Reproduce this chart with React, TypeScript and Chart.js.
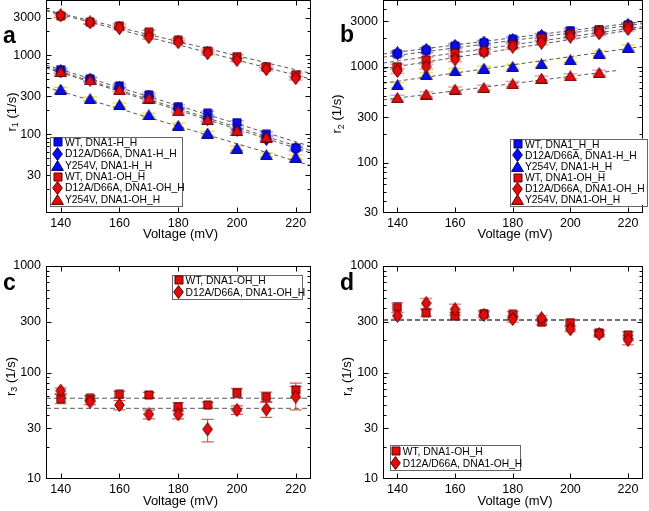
import React, { useEffect, useRef } from "react";
import { Chart, registerables } from "chart.js";
Chart.register(...registerables);

const FONT = '"Liberation Sans", Arial, Helvetica, sans-serif';

// ---------------- data ----------------
const voltage = [140, 150, 160, 170, 180, 190, 200, 210, 220];
const voltageShort = [140, 150, 160, 170, 180, 190, 200, 210];
const fitX = [135, 225];
const fitXShort = [135, 216];
const xTickValues = [140, 160, 180, 200, 220];
const yTicksTop = [30, 100, 300, 1000, 3000];
const yTicksBottom = [10, 30, 100, 300, 1000];

const labelsA = ["WT, DNA1-H_H", "D12A/D66A, DNA1-H_H", "Y254V, DNA1-H_H", "WT, DNA1-OH_H", "D12A/D66A, DNA1-OH_H", "Y254V, DNA1-OH_H"];
const labelsB = ["WT, DNA1_H_H", "D12A/D66A, DNA1-H_H", "Y254V, DNA1-H_H", "WT, DNA1-OH_H", "D12A/D66A, DNA1-OH_H", "Y254V, DNA1-OH_H"];
const labelsCD = ["WT, DNA1-OH_H", "D12A/D66A, DNA1-OH_H"];

// panel a: r1
const r1_WT_HH = [655, 500, 408, 314, 223, 184, 140, 100, 67];
const r1_WT_HH_err = [35, 27, 22, 17, 12, 10, 8, 6, 4];
const r1_D12A_HH = [625, 490, 382, 299, 207, 155, 113, 87, 65];
const r1_D12A_HH_err = [34, 26, 21, 16, 11, 9, 7, 5, 4];
const r1_Y254V_HH = [371, 280, 235, 175, 128, 103, 66.5, 54.7, 51.2];
const r1_Y254V_HH_err = [20, 15, 13, 9, 10, 6, 4, 3, 3];
const r1_WT_OH = [3150, 2620, 2350, 1955, 1550, 1130, 960, 718, 563];
const r1_WT_OH_err = [170, 140, 130, 110, 85, 60, 55, 40, 32];
const r1_D12A_OH = [3200, 2600, 2200, 1690, 1460, 1060, 871, 665, 512];
const r1_D12A_OH_err = [170, 140, 120, 95, 80, 58, 48, 37, 28];
const r1_Y254V_OH = [620, 487, 364, 286, 197, 152, 111, 91.6];
const r1_Y254V_OH_err = [34, 27, 20, 16, 11, 9, 6, 5];
const r1_fit_WT_HH = [750, 70];
const r1_fit_D12A_HH = [710, 62];
const r1_fit_Y254V_HH = [395, 40];
const r1_fit_WT_OH = [3740, 590];
const r1_fit_D12A_OH = [3650, 500];
const r1_fit_Y254V_OH = [690, 58];

// panel b: r2
const r2_WT_HH = [1380, 1490, 1650, 1790, 1950, 2100, 2400, 2450, 2750];
const r2_WT_HH_err = [80, 85, 95, 100, 110, 120, 140, 140, 150];
const r2_D12A_HH = [1393, 1506, 1660, 1795, 1900, 2110, 2280, 2330, 2750];
const r2_D12A_HH_err = [80, 85, 95, 100, 110, 120, 130, 130, 150];
const r2_Y254V_HH = [651, 828, 910, 971, 1010, 1077, 1187, 1393, 1607];
const r2_Y254V_HH_err = [38, 48, 52, 55, 58, 62, 68, 80, 90];
const r2_WT_OH = [1010, 1187, 1393, 1445, 1700, 1995, 2200, 2430, 2680];
const r2_WT_OH_err = [60, 68, 80, 82, 97, 114, 126, 139, 153];
const r2_D12A_OH = [910, 1010, 1205, 1445, 1630, 1795, 2075, 2250, 2495];
const r2_D12A_OH_err = [52, 58, 69, 82, 93, 103, 118, 128, 142];
const r2_Y254V_OH = [480, 521, 587, 610, 667, 764, 807, 875];
const r2_Y254V_OH_err = [27, 30, 33, 35, 38, 44, 46, 50];
const r2_fit_WT_HH = [1368, 2970];
const r2_fit_D12A_HH = [1266, 2830];
const r2_fit_Y254V_HH = [677, 1640];
const r2_fit_WT_OH = [1100, 2635];
const r2_fit_D12A_OH = [960, 2535];
const r2_fit_Y254V_OH = [454, 918];

// panel c: r3
const r3_WT_OH = [56.4, 57.3, 62.4, 61.5, 47.8, 49.5, 64.6, 59.3, 68.6];
const r3_WT_OH_err = [5.5, 3, 4.5, 3.5, 4.5, 3.3, 6.5, 6, 11];
const r3_D12A_OH = [67.5, 53.2, 49.5, 40.5, 40.5, 29.3, 44.5, 45.1, 59.3];
const r3_D12A_OH_err = [4, 3.3, 5, 3.8, 3.8, 7, 4, 7.2, 14.7];
const r3_fit_WT_OH = [57.3, 57.3];
const r3_fit_D12A_OH = [46.1, 46.1];

// panel d: r4
const r4_WT_OH = [409, 364, 340, 358, 352, 296, 294, 236, 225];
const r4_WT_OH_err = [43, 27, 27, 22, 22, 15, 18, 14, 16];
const r4_D12A_OH = [341, 447, 392, 348, 318, 323, 255, 230, 202];
const r4_D12A_OH_err = [25, 48, 45, 22, 22, 20, 12, 14, 20];
const r4_fit_WT_OH = [313, 313];
const r4_fit_D12A_OH = [309, 309];

// ---------------- styles ----------------
const BLUE = "#0b0bef";
const BLUE_EDGE = "#00007a";
const RED = "#e20c0c";
const RED_EDGE = "#5a0000";
const ERR_BLUE = "rgba(120,120,255,0.55)";
const ERR_YELLOW = "rgba(240,215,20,0.75)";
const ERR_RED = "rgba(235,90,90,0.55)";

const markerCache: Record<string, HTMLCanvasElement> = {};
function marker(shape: string, fill: string, stroke: string): HTMLCanvasElement {
  const key = shape + fill + stroke;
  if (markerCache[key]) return markerCache[key];
  const c = document.createElement("canvas");
  const dims = shape === "square" ? [10, 10] : shape === "diamond" ? [11, 14] : [13, 11];
  c.width = dims[0];
  c.height = dims[1];
  const g = c.getContext("2d")!;
  g.beginPath();
  if (shape === "square") g.rect(1, 1, 8, 8);
  else if (shape === "diamond") {
    g.moveTo(5.5, 0.5); g.lineTo(10.3, 7); g.lineTo(5.5, 13.5); g.lineTo(0.7, 7); g.closePath();
  } else {
    g.moveTo(6.5, 0.6); g.lineTo(12.4, 10.4); g.lineTo(0.6, 10.4); g.closePath();
  }
  g.fillStyle = fill;
  g.fill();
  g.strokeStyle = stroke;
  g.lineWidth = 1;
  g.stroke();
  markerCache[key] = c;
  return c;
}

function S(label: string, shape: string, blue: boolean, x: number[], y: number[], err: number[], errColor: string) {
  return { label, shape, fill: blue ? BLUE : RED, stroke: blue ? BLUE_EDGE : RED_EDGE, x, y, err, errColor };
}
function F(x: number[], y: number[], color = "#5a5a5a", width = 1, dash = [4, 3]) {
  return { x, y, color, width, dash };
}

// Top row canvases start 20px above the page so the plot frame can sit at y=0.
const panels = [
  {
    key: "a", left: 0, top: -20, w: 325, h: 275,
    area: { l: 46, t: 20, r: 311, b: 233 },
    yMin: 10, yMax: 5000, yTicks: yTicksTop,
    series: [
      S(labelsA[0], "square", true, voltage, r1_WT_HH, r1_WT_HH_err, ERR_BLUE),
      S(labelsA[1], "diamond", true, voltage, r1_D12A_HH, r1_D12A_HH_err, ERR_BLUE),
      S(labelsA[2], "triangle", true, voltage, r1_Y254V_HH, r1_Y254V_HH_err, ERR_YELLOW),
      S(labelsA[3], "square", false, voltage, r1_WT_OH, r1_WT_OH_err, ERR_RED),
      S(labelsA[4], "diamond", false, voltage, r1_D12A_OH, r1_D12A_OH_err, ERR_RED),
      S(labelsA[5], "triangle", false, voltageShort, r1_Y254V_OH, r1_Y254V_OH_err, ERR_RED),
    ],
    fits: [
      F(fitX, r1_fit_WT_HH), F(fitX, r1_fit_D12A_HH), F(fitX, r1_fit_Y254V_HH),
      F(fitX, r1_fit_WT_OH), F(fitX, r1_fit_D12A_OH), F(fitX, r1_fit_Y254V_OH),
    ],
    legend: { l: 50, t: 156.5, r: 181.5, b: 225, row0: 162.4, dy: 11.4, mx: 57.5, tx: 65 },
    letter: "a", letterX: 3, letterY: 63,
    sub: "1", yTitleX: 12, yTitleY: 132,
    xTitleY: 254, capHalf: 7, errWidth: 1.5,
  },
  {
    key: "b", left: 325, top: -20, w: 324, h: 275,
    area: { l: 58, t: 20, r: 323, b: 233 },
    yMin: 30, yMax: 5000, yTicks: yTicksTop,
    series: [
      S(labelsB[0], "square", true, voltage, r2_WT_HH, r2_WT_HH_err, ERR_BLUE),
      S(labelsB[1], "diamond", true, voltage, r2_D12A_HH, r2_D12A_HH_err, ERR_BLUE),
      S(labelsB[2], "triangle", true, voltage, r2_Y254V_HH, r2_Y254V_HH_err, ERR_YELLOW),
      S(labelsB[3], "square", false, voltage, r2_WT_OH, r2_WT_OH_err, ERR_RED),
      S(labelsB[4], "diamond", false, voltage, r2_D12A_OH, r2_D12A_OH_err, ERR_RED),
      S(labelsB[5], "triangle", false, voltageShort, r2_Y254V_OH, r2_Y254V_OH_err, ERR_RED),
    ],
    fits: [
      F(fitX, r2_fit_WT_HH), F(fitX, r2_fit_D12A_HH), F(fitX, r2_fit_Y254V_HH),
      F(fitX, r2_fit_WT_OH), F(fitX, r2_fit_D12A_OH), F(fitXShort, r2_fit_Y254V_OH),
    ],
    legend: { l: 185, t: 158.5, r: 321.5, b: 225, row0: 164.2, dy: 11.1, mx: 192.7, tx: 200 },
    letter: "b", letterX: 15, letterY: 62,
    sub: "2", yTitleX: 12.5, yTitleY: 134,
    xTitleY: 254, capHalf: 7, errWidth: 1.5,
  },
  {
    key: "c", left: 0, top: 255, w: 325, h: 256,
    area: { l: 46, t: 11, r: 311, b: 224 },
    yMin: 10, yMax: 1000, yTicks: yTicksBottom,
    series: [
      S(labelsCD[0], "square", false, voltage, r3_WT_OH, r3_WT_OH_err, "rgba(215,60,60,0.85)"),
      S(labelsCD[1], "diamond", false, voltage, r3_D12A_OH, r3_D12A_OH_err, "rgba(215,60,60,0.85)"),
    ],
    fits: [F(fitX, r3_fit_WT_OH, "#5a5a5a", 1, [5, 3]), F(fitX, r3_fit_D12A_OH, "#5a5a5a", 1, [5, 3])],
    legend: { l: 171.5, t: 19.5, r: 301.5, b: 43.5, row0: 25.4, dy: 12, mx: 178.5, tx: 185.5 },
    letter: "c", letterX: 3, letterY: 35,
    sub: "3", yTitleX: 11, yTitleY: 121.5,
    xTitleY: 246, capHalf: 6, errWidth: 1.2,
  },
  {
    key: "d", left: 325, top: 255, w: 324, h: 256,
    area: { l: 58, t: 11, r: 323, b: 224 },
    yMin: 10, yMax: 1000, yTicks: yTicksBottom,
    series: [
      S(labelsCD[0], "square", false, voltage, r4_WT_OH, r4_WT_OH_err, "rgba(232,90,90,0.7)"),
      S(labelsCD[1], "diamond", false, voltage, r4_D12A_OH, r4_D12A_OH_err, "rgba(232,90,90,0.7)"),
    ],
    fits: [F(fitX, r4_fit_WT_OH, "#707070", 1.5, [5, 3]), F(fitX, r4_fit_D12A_OH, "#707070", 1.5, [5, 3])],
    legend: { l: 65, t: 190, r: 195, b: 215, row0: 196.2, dy: 12.2, mx: 70.8, tx: 77.7 },
    letter: "d", letterX: 15, letterY: 35,
    sub: "4", yTitleX: 22, yTitleY: 121.5,
    xTitleY: 246, capHalf: 6, errWidth: 1.5,
  },
];

function makePlugin(cfg: any) {
  return {
    id: "decor_" + cfg.key,
    beforeDatasetsDraw(chart: any) {
      const ctx = chart.ctx;
      const xs = chart.scales.x;
      const ys = chart.scales.y;
      const a = chart.chartArea;
      ctx.save();
      ctx.beginPath();
      ctx.rect(a.left, a.top, a.right - a.left, a.bottom - a.top);
      ctx.clip();
      for (const s of cfg.series) {
        ctx.strokeStyle = s.errColor;
        ctx.lineWidth = cfg.errWidth;
        s.x.forEach((xv: number, i: number) => {
          const px = xs.getPixelForValue(xv);
          const hi = ys.getPixelForValue(s.y[i] + s.err[i]);
          const lo = ys.getPixelForValue(Math.max(s.y[i] - s.err[i], 0.001));
          ctx.beginPath();
          ctx.moveTo(px, hi); ctx.lineTo(px, lo);
          ctx.moveTo(px - cfg.capHalf, hi); ctx.lineTo(px + cfg.capHalf, hi);
          ctx.moveTo(px - cfg.capHalf, lo); ctx.lineTo(px + cfg.capHalf, lo);
          ctx.stroke();
        });
      }
      ctx.restore();
    },
    afterDraw(chart: any) {
      const ctx = chart.ctx;
      const xs = chart.scales.x;
      const ys = chart.scales.y;
      const a = chart.chartArea;
      ctx.save();
      // frame
      ctx.strokeStyle = "#000";
      ctx.lineWidth = 1;
      const x0 = a.left + 0.5, x1 = a.right - 0.5, y0 = a.top + 0.5, y1 = a.bottom - 0.5;
      ctx.strokeRect(x0, y0, x1 - x0, y1 - y0);
      ctx.beginPath();
      // x ticks (inward, bottom and top)
      for (const v of xTickValues) {
        const px = Math.round(xs.getPixelForValue(v)) + 0.5;
        ctx.moveTo(px, y1); ctx.lineTo(px, y1 - 5);
        ctx.moveTo(px, y0); ctx.lineTo(px, y0 + 5);
      }
      // y ticks: labelled ticks long, log minor ticks short
      const e0 = Math.floor(Math.log10(cfg.yMin));
      const e1 = Math.ceil(Math.log10(cfg.yMax));
      for (let e = e0; e <= e1; e++) {
        for (let k = 1; k <= 9; k++) {
          const v = k * Math.pow(10, e);
          if (v <= cfg.yMin * 1.0001 || v >= cfg.yMax * 0.9999) continue;
          const len = cfg.yTicks.includes(v) ? 5 : 3;
          const py = Math.round(ys.getPixelForValue(v)) + 0.5;
          ctx.moveTo(x0, py); ctx.lineTo(x0 + len, py);
          ctx.moveTo(x1, py); ctx.lineTo(x1 - len, py);
        }
      }
      ctx.stroke();

      // legend
      const L = cfg.legend;
      ctx.fillStyle = "#fff";
      ctx.fillRect(L.l, L.t, L.r - L.l, L.b - L.t);
      ctx.strokeStyle = "#666";
      ctx.lineWidth = 1;
      ctx.strokeRect(Math.round(L.l) + 0.5, Math.round(L.t) + 0.5, Math.round(L.r - L.l), Math.round(L.b - L.t));
      ctx.font = `10.3px ${FONT}`;
      ctx.textAlign = "left";
      ctx.textBaseline = "middle";
      cfg.series.forEach((s: any, i: number) => {
        const ry = L.row0 + i * L.dy;
        const m = marker(s.shape, s.fill, s.stroke);
        ctx.drawImage(m, Math.round(L.mx - m.width / 2), Math.round(ry - m.height / 2));
        ctx.fillStyle = "#000";
        ctx.fillText(s.label, L.tx, ry + 0.5);
      });

      // x title
      ctx.fillStyle = "#000";
      ctx.font = `13px ${FONT}`;
      ctx.textAlign = "center";
      ctx.textBaseline = "middle";
      ctx.fillText("Voltage (mV)", (a.left + a.right) / 2 + 2, cfg.xTitleY);

      // y title with subscript
      ctx.save();
      ctx.translate(cfg.yTitleX, cfg.yTitleY);
      ctx.rotate(-Math.PI / 2);
      ctx.textAlign = "left";
      ctx.textBaseline = "middle";
      const big = `13px ${FONT}`;
      const small = `9px ${FONT}`;
      ctx.font = big;
      const wr = ctx.measureText("r").width;
      const wrest = ctx.measureText(" (1/s)").width;
      ctx.font = small;
      const ws = ctx.measureText(cfg.sub).width;
      let tx = -(wr + ws + wrest) / 2;
      ctx.font = big;
      ctx.fillText("r", tx, 0);
      tx += wr;
      ctx.font = small;
      ctx.fillText(cfg.sub, tx, 4);
      tx += ws;
      ctx.font = big;
      ctx.fillText(" (1/s)", tx, 0);
      ctx.restore();

      // panel letter
      ctx.font = `bold 23px ${FONT}`;
      ctx.textAlign = "left";
      ctx.textBaseline = "alphabetic";
      ctx.fillStyle = "#000";
      ctx.fillText(cfg.letter, cfg.letterX, cfg.letterY);
      ctx.restore();
    },
  };
}

function Panel({ cfg }: { cfg: any }) {
  const ref = useRef<HTMLCanvasElement>(null);
  useEffect(() => {
    const canvas = ref.current!;
    const n = cfg.series.length;
    const datasets: any[] = [];
    cfg.series.forEach((s: any, i: number) => {
      datasets.push({
        label: s.label,
        data: s.x.map((xv: number, j: number) => ({ x: xv, y: s.y[j] })),
        showLine: false,
        pointStyle: marker(s.shape, s.fill, s.stroke),
        pointRadius: 5,
        pointHoverRadius: 5,
        order: n - i,
      });
    });
    cfg.fits.forEach((f: any) => {
      datasets.push({
        label: "fit",
        data: f.x.map((xv: number, j: number) => ({ x: xv, y: f.y[j] })),
        showLine: true,
        borderColor: f.color,
        borderWidth: f.width,
        borderDash: f.dash,
        pointRadius: 0,
        fill: false,
        order: 20,
      });
    });
    const tickFont = { family: FONT, size: 12.5 };
    const chart = new Chart(canvas, {
      type: "scatter",
      data: { datasets },
      options: {
        responsive: false,
        animation: false,
        events: [],
        layout: { padding: { left: 0, top: cfg.area.t, right: cfg.w - cfg.area.r, bottom: 0 } },
        plugins: { legend: { display: false }, tooltip: { enabled: false } },
        scales: {
          x: {
            type: "linear",
            position: "bottom",
            min: 135,
            max: 225.2,
            grid: { display: false, drawTicks: false },
            border: { display: false },
            ticks: { font: tickFont, color: "#000", padding: 3, autoSkip: false, maxRotation: 0, callback: (v: any) => String(v) },
            afterBuildTicks: (s: any) => { s.ticks = xTickValues.map((v) => ({ value: v })); },
            afterFit: (s: any) => {
              s.height = cfg.h - cfg.area.b;
              s.paddingLeft = 0; s.paddingRight = 0; s.paddingTop = 0; s.paddingBottom = 0;
            },
          },
          y: {
            type: "logarithmic",
            position: "left",
            min: cfg.yMin,
            max: cfg.yMax,
            grid: { display: false, drawTicks: false },
            border: { display: false },
            ticks: { font: tickFont, color: "#000", padding: 5, autoSkip: false, callback: (v: any) => String(v) },
            afterBuildTicks: (s: any) => { s.ticks = cfg.yTicks.map((v: number) => ({ value: v })); },
            afterFit: (s: any) => {
              s.width = cfg.area.l;
              s.paddingLeft = 0; s.paddingRight = 0; s.paddingTop = 0; s.paddingBottom = 0;
            },
          },
        },
      },
      plugins: [makePlugin(cfg)],
    } as any);
    return () => chart.destroy();
  }, []);
  return (
    <canvas
      ref={ref}
      width={cfg.w}
      height={cfg.h}
      style={{ position: "absolute", left: cfg.left, top: cfg.top, width: cfg.w, height: cfg.h, display: "block" }}
    />
  );
}

export default function App() {
  return (
    <div style={{ position: "absolute", left: 0, top: 0, width: 649, height: 511, background: "#fff", overflow: "hidden" }}>
      {panels.map((p) => (
        <Panel key={p.key} cfg={p} />
      ))}
    </div>
  );
}
